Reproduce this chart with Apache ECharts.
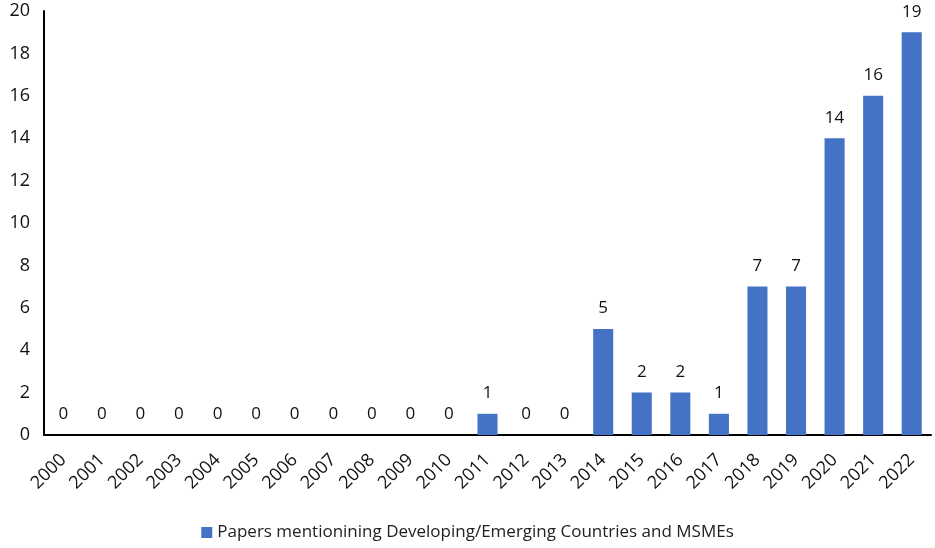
<!DOCTYPE html>
<html><head><meta charset="utf-8">
<script src="https://cdn.jsdelivr.net/npm/echarts@6/dist/echarts.min.js"></script>
<style>html,body{margin:0;padding:0;background:#fff}#c{width:935px;height:548px}</style>
</head><body><div id="c"></div>
<script>
const categories = ['2000','2001','2002','2003','2004','2005','2006','2007','2008','2009','2010','2011','2012','2013','2014','2015','2016','2017','2018','2019','2020','2021','2022'];
const values = [0,0,0,0,0,0,0,0,0,0,0,1,0,0,5,2,2,1,7,7,14,16,19];
const seriesName = 'Papers mentionining Developing/Emerging Countries and MSMEs';
const font = 'Open Sans';
const chart = echarts.init(document.getElementById('c'));
chart.setOption({
  animation:false,
  textStyle:{fontFamily:font},
  grid:{left:44,right:4,top:11,bottom:113},
  legend:{bottom:2,left:'center',itemWidth:11,itemHeight:11,icon:'rect',itemGap:6,
    textStyle:{fontFamily:font,fontSize:17,color:'#222'},data:[seriesName]},
  xAxis:{type:'category',data:categories,
    axisLine:{lineStyle:{color:'#000',width:2}},axisTick:{show:false},
    axisLabel:{rotate:45,fontSize:18,color:'#111',margin:22,interval:0,fontFamily:font}},
  yAxis:{type:'value',min:0,max:20,interval:2,
    axisLine:{show:true,lineStyle:{color:'#000',width:2}},axisTick:{show:false},
    splitLine:{show:false},
    axisLabel:{fontSize:18,color:'#111',margin:14,fontFamily:font}},
  series:[{name:seriesName,type:'bar',data:values,barWidth:'52%',
    itemStyle:{color:'#4472C4'},
    label:{show:true,position:'top',distance:12,fontSize:17,color:'#111',fontFamily:font}}]
});
</script></body></html>
